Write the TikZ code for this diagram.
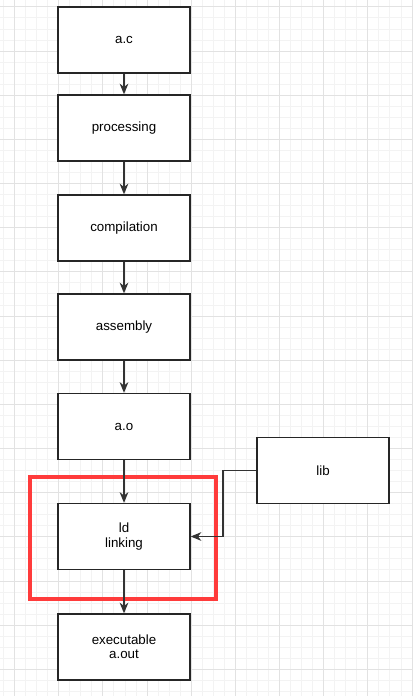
\documentclass[tikz,border=0pt]{standalone}
\usepackage{fontspec}
\setmainfont{Liberation Sans}
\usetikzlibrary{arrows.meta}
\definecolor{gridminor}{HTML}{F3F3F3}
\definecolor{gridmajor}{HTML}{E2E2E2}
\definecolor{edgecol}{HTML}{333333}
\definecolor{hlred}{HTML}{FF3B3B}
\tikzset{
  stepbox/.style={draw=black!85, line width=1pt, fill=white,
    minimum width=99pt, minimum height=49.5pt, inner sep=0pt,
    align=center, font=\fontsize{10}{10.6}\selectfont},
  flow/.style={draw=edgecol, line width=1pt,
    -{Stealth[length=8pt, width=6.5pt, inset=2.5pt]}},
  highlight/.style={draw=hlred, line width=2.3pt,
    minimum width=139.5pt, minimum height=91.5pt, inner sep=0pt}
}
\begin{document}
\begin{tikzpicture}[x=0.75pt, y=-0.75pt]
  % canvas
  \fill[white] (0,0) rectangle (413,696);
  \useasboundingbox (0,0) rectangle (413,696);
  % background grid: fine lines, then every fourth line darker
  \foreach \k in {-1,...,37} {
    \draw[gridminor, line width=0.6pt] ({14.5+11.04*\k},0) -- ({14.5+11.04*\k},696);
  }
  \foreach \k in {-5,...,59} {
    \draw[gridminor, line width=0.6pt] (0,{51+11.04*\k}) -- (413,{51+11.04*\k});
  }
  \foreach \k in {0,...,9} {
    \draw[gridmajor, line width=0.6pt] ({14.5+44.16*\k},0) -- ({14.5+44.16*\k},696);
  }
  \foreach \k in {-1,...,15} {
    \draw[gridmajor, line width=0.6pt] (0,{51+44.16*\k}) -- (413,{51+44.16*\k});
  }

  % pipeline stages
  \node[stepbox] (ac)   at (124,40)    {a.c};
  \node[stepbox] (proc) at (124,128)   {processing};
  \node[stepbox] (comp) at (124,228)   {compilation};
  \node[stepbox] (asm)  at (124,327)   {assembly};
  \node[stepbox] (ao)   at (124,426.5) {a.o};
  \node[stepbox] (ld)   at (124,536.5) {ld\\linking};
  \node[stepbox] (exe)  at (124,647)   {executable\\a.out};
  \node[stepbox] (lib)  at (323,470.5) {lib};

  % linking step highlight
  \node[highlight] (hl) at (123,538) {};

  % connectors
  \draw[flow] (ac)   -- (proc);
  \draw[flow] (proc) -- (comp);
  \draw[flow] (comp) -- (asm);
  \draw[flow] (asm)  -- (ao);
  \draw[flow] (ao)   -- (ld);
  \draw[flow] (ld)   -- (exe);
  \coordinate (bend) at (223,470.5);
  \draw[flow] (lib.west) -- (bend) |- (ld.east);
\end{tikzpicture}
\end{document}
